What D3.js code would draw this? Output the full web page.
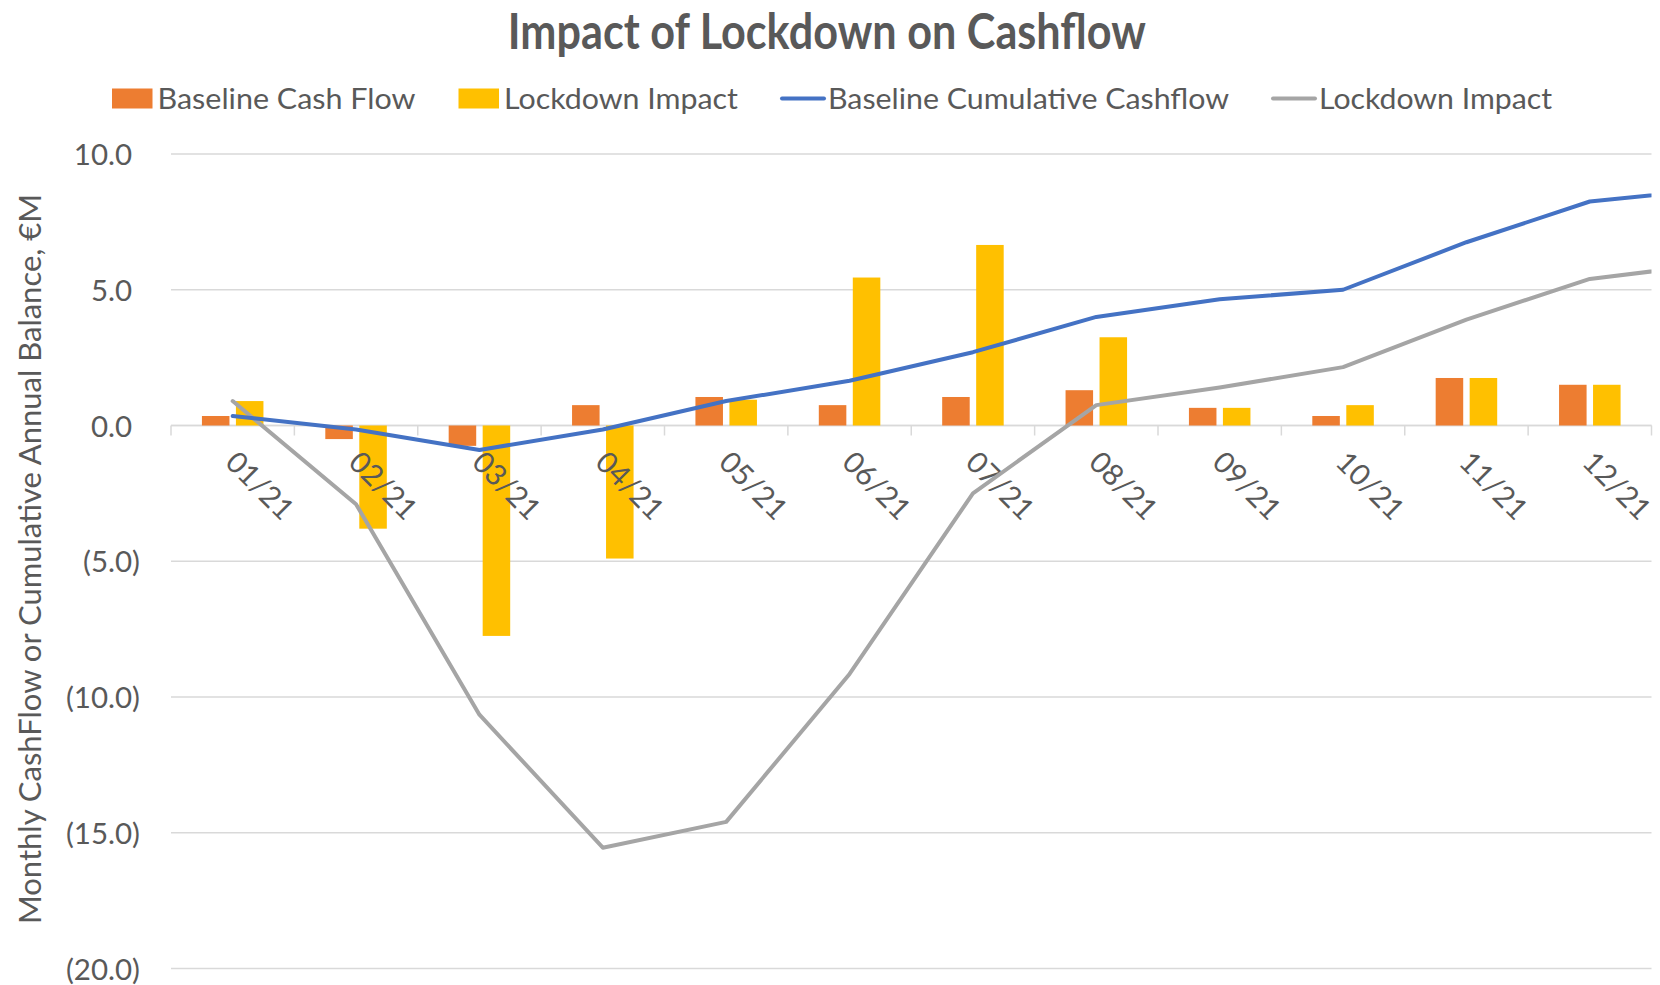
<!DOCTYPE html>
<html>
<head>
<meta charset="utf-8">
<script src="https://cdn.jsdelivr.net/npm/d3@7"></script>
<style>
  html, body { margin: 0; padding: 0; background: #fff; }
  svg { display: block; }
  text { font-family: Lato, "Open Sans", sans-serif; fill: #595959; }
</style>
</head>
<body>
<svg id="chart" width="1660" height="985"></svg>
<script>
// ---- data (€M) ----
const months = ["01/21", "02/21", "03/21", "04/21", "05/21", "06/21",
                "07/21", "08/21", "09/21", "10/21", "11/21", "12/21"];
const nextMonth = "01/22"; // first month of the following year, lines run toward it
const baselineCashFlow = [0.35, -0.5, -0.75, 0.75, 1.05, 0.75, 1.05, 1.3, 0.65, 0.35, 1.75, 1.5];
const lockdownImpact   = [0.9, -3.8, -7.75, -4.9, 0.95, 5.45, 6.65, 3.25, 0.65, 0.75, 1.75, 1.5];
const baselineCumulative = [0.35, -0.15, -0.9, -0.15, 0.9, 1.65, 2.7, 4.0, 4.65, 5.0, 6.75, 8.25, 8.7];
const lockdownCumulative = [0.9, -2.9, -10.65, -15.55, -14.6, -9.15, -2.5, 0.75, 1.4, 2.15, 3.9, 5.4, 5.95];
const yTicks = [10, 5, 0, -5, -10, -15, -20];

const titleText = "Impact of Lockdown on Cashflow";
const yTitle = "Monthly CashFlow or Cumulative Annual Balance, €M";
const legendLabels = ["Baseline Cash Flow", "Lockdown Impact", "Baseline Cumulative Cashflow", "Lockdown Impact"];
const legendKinds = ["rect", "rect", "line", "line"];

// ---- styles & layout ----
const seriesColors = ["#ED7D31", "#FFC000", "#4472C4", "#A5A5A5"];
const legendTextWidths = [258, 234, 401, 233];
const W = 1660, H = 985;
const plot = { left: 171, right: 1651.5, top: 154, bottom: 968.5 };
const gridColor = "#D9D9D9";
const textColor = "#595959";

const svg = d3.select("#chart");

const x = d3.scaleBand().domain(months).range([plot.left, plot.right]);
const bw = x.bandwidth();
const sub = d3.scaleBand().domain(["base", "lock"]).range([0, bw])
  .paddingInner(0.19).paddingOuter(0.91);
const xp = d3.scalePoint().domain([...months, nextMonth])
  .range([plot.left + bw / 2, plot.left + bw / 2 + bw * months.length]);
const y = d3.scaleLinear().domain([-20, 10]).range([plot.bottom, plot.top]);

// clip for series lines
svg.append("defs").append("clipPath").attr("id", "plotClip")
  .append("rect").attr("x", plot.left).attr("y", 0)
  .attr("width", plot.right - plot.left).attr("height", H);

// ---- title ----
svg.append("text")
  .attr("x", 826.8).attr("y", 49)
  .attr("text-anchor", "middle")
  .attr("font-size", 49).attr("font-weight", 700)
  .attr("textLength", 638).attr("lengthAdjust", "spacingAndGlyphs")
  .text(titleText);

// ---- legend ----
const legend = svg.append("g");
const legendY = 98.5;
let lx = 112;
legendLabels.forEach((label, i) => {
  const kind = legendKinds[i];
  const g = legend.append("g").attr("transform", `translate(${lx},0)`);
  const mw = kind === "rect" ? 40.5 : 44;
  const gap = kind === "rect" ? 5 : 3;
  if (kind === "rect") {
    g.append("rect").attr("x", 0).attr("y", legendY - 10).attr("width", mw).attr("height", 20)
      .attr("fill", seriesColors[i]);
  } else {
    g.append("line").attr("x1", 1).attr("x2", mw - 1).attr("y1", legendY).attr("y2", legendY)
      .attr("stroke", seriesColors[i]).attr("stroke-width", 4).attr("stroke-linecap", "round");
  }
  g.append("text").attr("x", mw + gap).attr("y", legendY + 10)
    .attr("font-size", 29.5)
    .attr("textLength", legendTextWidths[i]).attr("lengthAdjust", "spacingAndGlyphs")
    .text(label);
  lx += mw + gap + legendTextWidths[i] + 43;
});

// ---- gridlines ----
svg.append("g").selectAll("line").data(yTicks).join("line")
  .attr("x1", plot.left).attr("x2", plot.right)
  .attr("y1", d => y(d)).attr("y2", d => y(d))
  .attr("stroke", gridColor).attr("stroke-width", 1.5);

// ---- y axis labels ----
const fmt = v => v < 0 ? `(${Math.abs(v).toFixed(1)})` : v.toFixed(1);
const yAxis = d3.axisLeft(y).tickValues(yTicks).tickSize(0).tickPadding(0).tickFormat(fmt);
const yg = svg.append("g").attr("transform", `translate(140,0)`).call(yAxis);
yg.select(".domain").remove();
const parenProbe = yg.append("text").attr("font-size", 29.5).text(")");
const parenW = parenProbe.node().getComputedTextLength();
parenProbe.remove();
yg.selectAll(".tick text")
  .attr("font-size", 29.5).attr("font-family", "Lato, 'Open Sans', sans-serif")
  .attr("fill", textColor)
  .attr("dy", "0.36em")
  .attr("x", d => d < 0 ? 0 : -parenW);

// ---- y axis title ----
svg.append("text")
  .attr("transform", `translate(41,559) rotate(-90)`)
  .attr("text-anchor", "middle")
  .attr("font-size", 30)
  .attr("textLength", 730).attr("lengthAdjust", "spacingAndGlyphs")
  .text(yTitle);

// ---- x axis line and ticks ----
const y0 = y(0);
svg.append("line").attr("x1", plot.left).attr("x2", plot.right)
  .attr("y1", y0).attr("y2", y0).attr("stroke", gridColor).attr("stroke-width", 1.5);
const boundaries = months.map(m => x(m)).concat([plot.right]);
svg.append("g").selectAll("line").data(boundaries).join("line")
  .attr("x1", d => d).attr("x2", d => d)
  .attr("y1", y0).attr("y2", y0 + 10)
  .attr("stroke", gridColor).attr("stroke-width", 1.5);

// ---- bars ----
const barGroup = svg.append("g");
function drawBars(values, key, color) {
  barGroup.append("g").selectAll("rect").data(values).join("rect")
    .attr("x", (d, i) => x(months[i]) + sub(key))
    .attr("width", sub.bandwidth())
    .attr("y", d => Math.min(y(d), y0))
    .attr("height", d => Math.abs(y(d) - y0))
    .attr("fill", color);
}
drawBars(baselineCashFlow, "base", seriesColors[0]);
drawBars(lockdownImpact, "lock", seriesColors[1]);

// ---- x tick labels ----
svg.append("g").selectAll("text").data(months).join("text")
  .attr("transform", m => `translate(${x(m) + bw / 2 - 9},464) rotate(45)`)
  .attr("font-size", 29.5)
  .text(m => m);

// ---- cumulative lines ----
const lineGen = d3.line()
  .x((d, i) => xp(i < months.length ? months[i] : nextMonth))
  .y(d => y(d));
const lines = svg.append("g").attr("clip-path", "url(#plotClip)");
lines.append("path").datum(lockdownCumulative)
  .attr("d", lineGen).attr("fill", "none")
  .attr("stroke", seriesColors[3]).attr("stroke-width", 4)
  .attr("stroke-linejoin", "round").attr("stroke-linecap", "round");
lines.append("path").datum(baselineCumulative)
  .attr("d", lineGen).attr("fill", "none")
  .attr("stroke", seriesColors[2]).attr("stroke-width", 4)
  .attr("stroke-linejoin", "round").attr("stroke-linecap", "round");
</script>
</body>
</html>
